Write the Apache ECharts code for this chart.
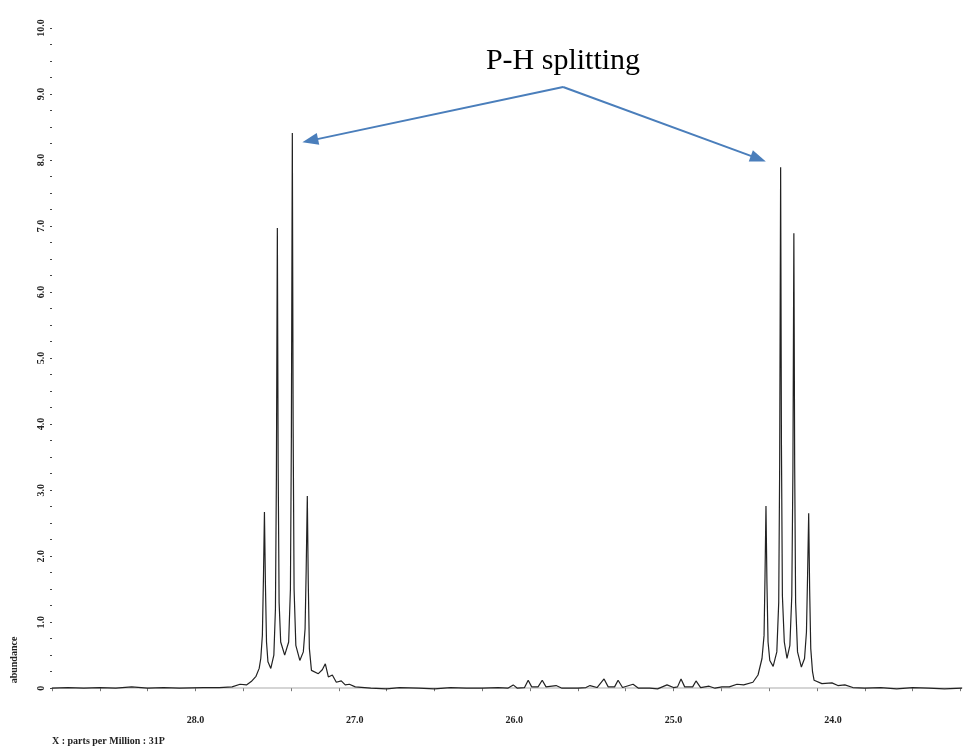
<!DOCTYPE html>
<html>
<head>
<meta charset="utf-8">
<script src="https://cdn.jsdelivr.net/npm/echarts@6/dist/echarts.min.js"></script>
<style>
html,body{margin:0;padding:0;background:#fff;}
#chart{width:963px;height:749px;}
</style>
</head>
<body>
<div id="chart"></div>
<script>
// [ppm, abundance] pairs
var baselineLeft = [
  [28.90,0.00],[28.80,0.01],[28.70,0.00],[28.60,0.01],[28.50,0.00],[28.40,0.02],[28.30,0.00],
  [28.20,0.01],[28.10,0.00],[27.95,0.01],[27.85,0.01],[27.77,0.02],[27.72,0.06],[27.68,0.05],
  [27.65,0.10],[27.62,0.18],[27.60,0.30]
];
var multipletLeft = [
  [27.590,0.45],[27.580,0.80],[27.573,1.70],[27.567,2.67],[27.561,1.60],[27.554,0.70],[27.545,0.40],
  [27.527,0.30],
  [27.508,0.50],[27.498,1.20],[27.492,3.20],[27.486,6.97],[27.481,3.40],[27.475,1.30],[27.465,0.70],
  [27.440,0.50],
  [27.415,0.70],[27.404,1.50],[27.398,3.80],[27.392,8.41],[27.387,4.00],[27.381,1.50],[27.370,0.65],
  [27.345,0.42],
  [27.323,0.55],[27.312,0.90],[27.305,1.80],[27.298,2.91],[27.292,1.60],[27.285,0.60],[27.272,0.27],
  [27.229,0.22],[27.204,0.28],[27.185,0.37],[27.166,0.17],[27.141,0.20],[27.116,0.09],[27.085,0.11],
  [27.060,0.05],[27.034,0.06],[26.997,0.02]
];
var middleRegion = [
  [26.90,0.00],[26.80,-0.01],[26.72,0.01],[26.60,0.00],[26.50,-0.01],[26.40,0.01],[26.30,0.00],
  [26.20,0.00],[26.10,0.01],[26.04,0.00],[26.006,0.05],[25.98,0.00],[25.935,0.01],[25.912,0.12],
  [25.89,0.02],[25.85,0.02],[25.824,0.12],[25.80,0.02],[25.737,0.04],[25.70,0.00],[25.60,0.00],
  [25.55,0.01],[25.524,0.04],[25.48,0.01],[25.436,0.14],[25.41,0.02],[25.37,0.02],[25.348,0.12],
  [25.32,0.01],[25.254,0.06],[25.22,0.00],[25.15,0.00],[25.10,-0.01],[25.041,0.05],[25.00,0.01],
  [24.975,0.02],[24.953,0.14],[24.93,0.02],[24.88,0.02],[24.859,0.11],[24.83,0.01],[24.777,0.03],
  [24.74,0.00],[24.696,0.02],[24.65,0.02],[24.602,0.06],[24.56,0.05],[24.502,0.09],[24.47,0.20],
  [24.445,0.45]
];
var multipletRight = [
  [24.432,0.80],[24.426,1.70],[24.420,2.76],[24.414,1.60],[24.407,0.70],[24.396,0.42],
  [24.375,0.33],
  [24.352,0.55],[24.340,1.30],[24.334,3.40],[24.328,7.89],[24.323,3.70],[24.317,1.40],[24.305,0.70],
  [24.288,0.45],
  [24.270,0.65],[24.258,1.40],[24.251,3.30],[24.245,6.89],[24.240,3.40],[24.234,1.30],[24.222,0.55],
  [24.198,0.32],
  [24.178,0.45],[24.166,0.85],[24.159,1.70],[24.152,2.65],[24.146,1.50],[24.139,0.60],[24.128,0.25],
  [24.118,0.12]
];
var baselineRight = [
  [24.069,0.07],[24.006,0.08],[23.969,0.04],[23.925,0.05],[23.875,0.01],[23.80,0.00],[23.70,0.01],
  [23.60,-0.01],[23.50,0.01],[23.40,0.00],[23.30,-0.01],[23.19,0.00]
];
var xTickLabels = [28, 27, 26, 25, 24];
var xTicks = [28.9,28.6,28.3,28.0,27.7,27.4,27.1,26.8,26.5,26.2,25.9,25.6,25.3,25.0,24.7,24.4,24.1,23.8,23.5,23.2];
var yTickLabels = [0,1,2,3,4,5,6,7,8,9,10];
var yTicks = [0,0.25,0.5,0.75,1,1.25,1.5,1.75,2,2.25,2.5,2.75,3,3.25,3.5,3.75,4,4.25,4.5,4.75,5,5.25,5.5,5.75,6,6.25,6.5,6.75,7,7.25,7.5,7.75,8,8.25,8.5,8.75,9,9.25,9.5,9.75,10];
var annotationText = 'P-H splitting';
var arrowApex = [25.693, 9.106];
var arrowLeftTip = [27.280, 8.294];
var arrowRightTip = [24.468, 8.021];

var spectrum = [].concat(baselineLeft, multipletLeft, middleRegion, multipletRight, baselineRight);

var chart = echarts.init(document.getElementById('chart'), null, {renderer: 'canvas'});
var labelFont = {fontFamily: 'Liberation Serif', fontWeight: 'bold', fontSize: 10, color: '#222'};
chart.setOption({
  animation: false,
  backgroundColor: '#fff',
  grid: {left: 52, right: 1, top: 28, bottom: 41, containLabel: false},
  xAxis: {
    type: 'value', inverse: true, min: 23.19, max: 28.9,
    axisLine: {show: true, lineStyle: {color: '#c8c8c8', width: 1.5}},
    axisTick: {show: true, customValues: xTicks, length: 3, lineStyle: {color: '#777'}},
    axisLabel: Object.assign({customValues: xTickLabels, margin: 7,
      formatter: function (v) { return v.toFixed(1); }}, labelFont),
    splitLine: {show: false}
  },
  yAxis: {
    type: 'value', min: -0.3, max: 10,
    axisLine: {show: false},
    axisTick: {show: true, customValues: yTicks, length: 2, lineStyle: {color: '#444'}},
    axisLabel: Object.assign({customValues: yTickLabels, rotate: 90, margin: 6,
      formatter: function (v) { return v === 0 ? '0' : v.toFixed(1); }}, labelFont),
    splitLine: {show: false}
  },
  graphic: [
    {type: 'text', left: 52, top: 736, style: {text: 'X : parts per Million : 31P', fontFamily: 'Liberation Serif', fontWeight: 'bold', fontSize: 10, fill: '#222'}},
    {type: 'text', x: 14, y: 660, rotation: Math.PI / 2, style: {text: 'abundance', fontFamily: 'Liberation Serif', fontWeight: 'bold', fontSize: 10, fill: '#222', align: 'center', verticalAlign: 'middle'}},
    {type: 'text', x: 563, y: 61, style: {text: annotationText, fontFamily: 'Liberation Serif', fontSize: 30, fill: '#000', align: 'center', verticalAlign: 'middle'}}
  ],
  series: [{
    type: 'line',
    data: spectrum,
    symbol: 'none',
    sampling: null,
    lineStyle: {color: '#222', width: 1.2},
    markLine: {
      silent: true,
      symbolSize: [12, 16],
      label: {show: false},
      lineStyle: {color: '#4a7ebb', width: 2, type: 'solid'},
      data: [
        [{coord: arrowApex, symbol: 'none'}, {coord: arrowLeftTip, symbol: 'triangle'}],
        [{coord: arrowApex, symbol: 'none'}, {coord: arrowRightTip, symbol: 'triangle'}]
      ]
    }
  }]
});
</script>
</body>
</html>
